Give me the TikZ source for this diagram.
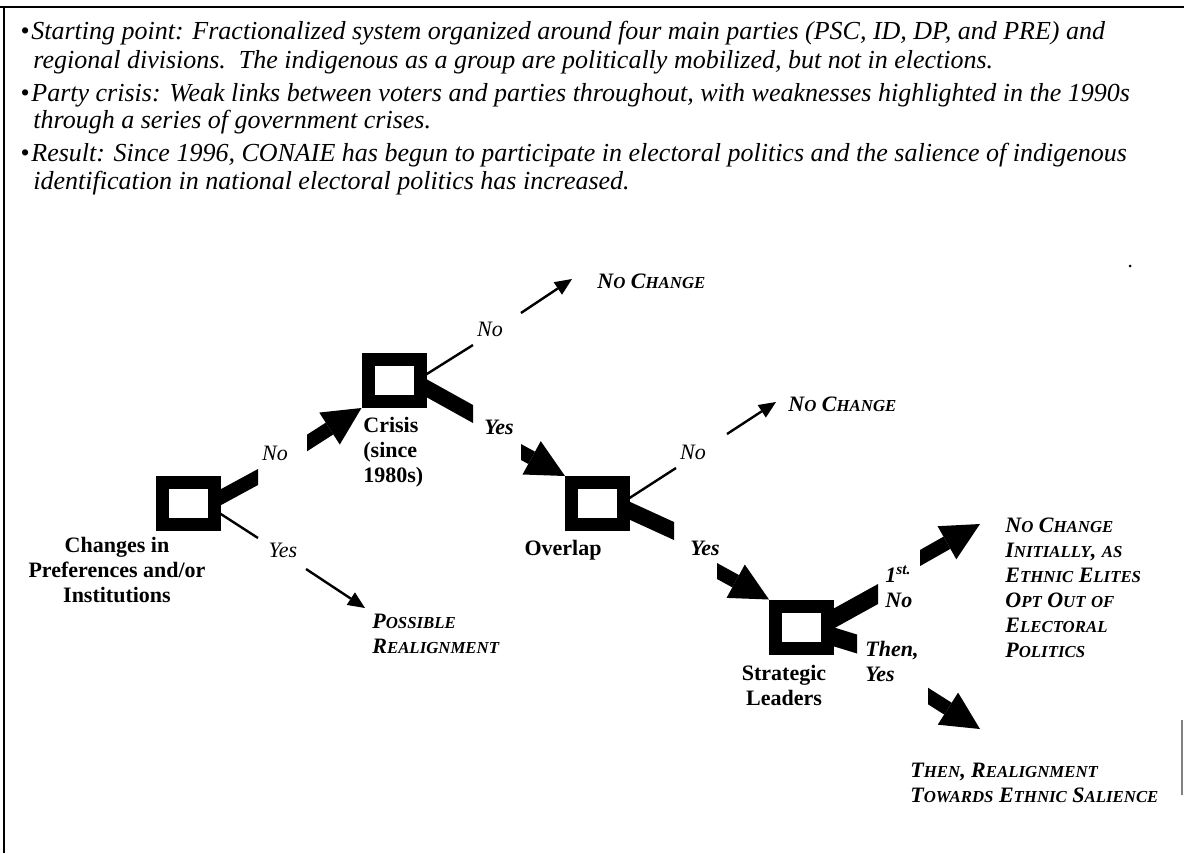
\documentclass[tikz,border=0pt]{standalone}
\usepackage{fontspec}
\setmainfont{Liberation Serif}
\usetikzlibrary{arrows.meta,calc}

% fake small capitals for the outcome labels
\newcommand\sk[1]{{\fontsize{8.4}{10}\selectfont #1}}

% thick branch leaving a box: a band with vertical ends
% #1 box anchor, #2 vertical offset at the box, #3 end coordinate, #4 half thickness
\newcommand\band[4]{\fill ($(#1)+(-3,#2-#4)$) -- ($(#3)+(0,-#4)$) -- ($(#3)+(0,#4)$) -- ($(#1)+(-3,#2+#4)$) -- cycle;}

% thick arrow whose tail is cut vertically at its start point
\newcommand\fatarrow[2]{%
  \begin{scope}
    \clip ($(#1)+(0,-90)$) rectangle ($(#1)+(220,90)$);
    \draw[fatarr] ($(#1)!-10pt!(#2)$) -- (#2);
  \end{scope}}

\begin{document}
\begin{tikzpicture}[x=0.5pt,y=-0.5pt,
  decision/.style={draw, line width=6.5pt, minimum width=26pt, minimum height=21pt,
    inner sep=0pt, outer sep=3.25pt},
  body/.style={font=\itshape\fontsize{13}{15}\selectfont, anchor=base west, inner sep=0pt},
  cond/.style={font=\bfseries\fontsize{11}{12.5}\selectfont, inner sep=0pt},
  ans/.style={font=\itshape\fontsize{11}{12.5}\selectfont, inner sep=0pt},
  bans/.style={font=\bfseries\itshape\fontsize{11}{12.5}\selectfont, inner sep=0pt, align=left},
  outcome/.style={font=\bfseries\itshape\fontsize{11}{12.5}\selectfont, inner sep=0pt,
    align=left, anchor=west},
  thinline/.style={line width=1.2pt},
  thinarr/.style={line width=1.2pt, -{Triangle[length=8.5pt,width=7.5pt,line width=0pt]}},
  fatarr/.style={line width=7pt, -{Triangle[length=19pt,width=19pt,line width=0pt]}}
]
\useasboundingbox (0,0) rectangle (1184,853);

% frame
\draw[line width=1pt] (0,7) -- (1184,7);
\draw[line width=1pt] (4,7) -- (4,853);
\draw[gray, line width=0.6pt] (1182,720) -- (1182,795);
\fill (1130,266) circle (1.5);

% summary bullets
\node[body] (bu1) at (20,39) {•};
\node[body] (t1) at (31,39) {Starting point: Fractionalized system organized around four main parties (PSC, ID, DP, and PRE) and};
\node[body] (t2) at (33,68) {regional divisions.\ \ The indigenous as a group are politically mobilized, but not in elections.};
\node[body] (bu2) at (20,101) {•};
\node[body] (t3) at (31,101) {Party crisis: Weak links between voters and parties throughout, with weaknesses highlighted in the 1990s};
\node[body] (t4) at (33,128) {through a series of government crises.};
\node[body] (bu3) at (20,161) {•};
\node[body] (t5) at (31,161) {Result: Since 1996, CONAIE has begun to participate in electoral politics and the salience of indigenous};
\node[body] (t6) at (33,189) {identification in national electoral politics has increased.};

% decision boxes
\node[decision] (b1) at (188,503.5) {};
\node[decision] (b2) at (394,380.5) {};
\node[decision] (b3) at (597.5,503.5) {};
\node[decision] (b4) at (801.5,627) {};

% box captions
\node[cond, align=center] (c1) at (117,570) {Changes in\\Preferences and/or\\Institutions};
\node[cond, align=left, anchor=west] (c2) at (363,452) {Crisis\\(since\\1980s)};
\node[cond] (c3) at (563,550) {Overlap};
\node[cond, align=center] (c4) at (784,685.5) {Strategic\\Leaders};

% branch end points
\coordinate (b1n-e) at (258,477);
\coordinate (b1n-s) at (307,443);
\coordinate (b1y-e) at (258,538);
\coordinate (b1y-s) at (306,569);
\coordinate (b1y-t) at (365,608);
\coordinate (b2n-e) at (473,345);
\coordinate (b2n-s) at (521,313);
\coordinate (b2n-t) at (572,279);
\coordinate (b2y-e) at (473,414);
\coordinate (b2y-s) at (521,452);
\coordinate (b3n-e) at (676,468);
\coordinate (b3n-s) at (727,434);
\coordinate (b3n-t) at (776,402);
\coordinate (b3y-e) at (674,531);
\coordinate (b3y-s) at (717,571);
\coordinate (b4n-e) at (878,594);
\coordinate (b4n-s) at (920,558);
\coordinate (b4n-t) at (980,524);
\coordinate (b4y-e) at (857,644);
\coordinate (b4y-s) at (928,696);
\coordinate (b4y-t) at (980,729);

% box 1: changes in preferences
\band{b1.east}{-4.5}{b1n-e}{8}
\node[ans] (l1n) at (275,453) {No};
\fatarrow{b1n-s}{b2.south west}
\draw[thinline] ($(b1.east)+(-2,9)$) -- (b1y-e);
\node[ans] (l1y) at (283,550) {Yes};
\draw[thinarr] (b1y-s) -- (b1y-t);
\node[outcome] (o1) at (372,633.5) {P\sk{OSSIBLE}\\R\sk{EALIGNMENT}};

% box 2: crisis
\draw[thinline] ($(b2.east)+(-2,-5)$) -- (b2n-e);
\node[ans] (l2n) at (490,329) {No};
\draw[thinarr] (b2n-s) -- (b2n-t);
\node[outcome] (o2) at (597,281) {N\sk{O} C\sk{HANGE}};
\band{b2.east}{6}{b2y-e}{9}
\node[bans] (l2y) at (499,427) {Yes};
\fatarrow{b2y-s}{b3.north west}

% box 3: overlap
\draw[thinline] ($(b3.east)+(-2,-4.5)$) -- (b3n-e);
\node[ans] (l3n) at (693,452) {No};
\draw[thinarr] (b3n-s) -- (b3n-t);
\node[outcome] (o3) at (788,404) {N\sk{O} C\sk{HANGE}};
\band{b3.east}{6}{b3y-e}{9}
\node[bans] (l3y) at (705,548) {Yes};
\fatarrow{b3y-s}{b4.north west}

% box 4: strategic leaders
\band{b4.east}{-7}{b4n-e}{10}
\node[bans, anchor=west] (l4n) at (885,587) {1\textsuperscript{st.}\\No};
\fatarrow{b4n-s}{b4n-t}
\node[outcome] (o4) at (1005,588) {N\sk{O} C\sk{HANGE}\\I\sk{NITIALLY}, \sk{AS}\\E\sk{THNIC} E\sk{LITES}\\O\sk{PT} O\sk{UT} \sk{OF}\\E\sk{LECTORAL}\\P\sk{OLITICS}};
\band{b4.east}{9}{b4y-e}{9.5}
\node[bans, anchor=west] (l4y) at (865,661) {Then,\\Yes};
\fatarrow{b4y-s}{b4y-t}
\node[outcome] (o5) at (910,782.5) {T\sk{HEN}, R\sk{EALIGNMENT}\\T\sk{OWARDS} E\sk{THNIC} S\sk{ALIENCE}};

\end{tikzpicture}
\end{document}
